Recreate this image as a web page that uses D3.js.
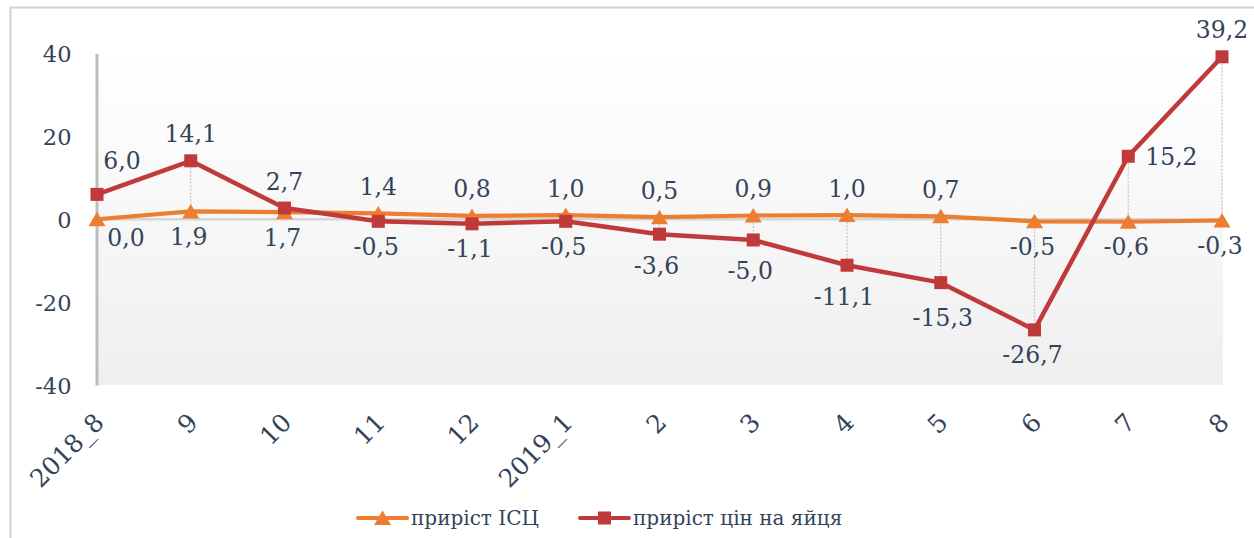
<!DOCTYPE html>
<html>
<head>
<meta charset="utf-8">
<script src="https://cdn.jsdelivr.net/npm/d3@7"></script>
<style>
  html, body { margin: 0; padding: 0; background: #ffffff; }
  svg { display: block; }
</style>
</head>
<body>
<svg id="chart" width="1254" height="538"></svg>
<script>
// ---- data ----
const categories = ["2018_8", "9", "10", "11", "12", "2019_1", "2", "3", "4", "5", "6", "7", "8"];
const iscValues  = [0.0, 1.9, 1.7, 1.4, 0.8, 1.0, 0.5, 0.9, 1.0, 0.7, -0.5, -0.6, -0.3];
const eggValues  = [6.0, 14.1, 2.7, -0.5, -1.1, -0.5, -3.6, -5.0, -11.1, -15.3, -26.7, 15.2, 39.2];
const yTicks     = [-40, -20, 0, 20, 40];
const seriesNames = ["приріст ІСЦ", "приріст цін на яйця"];
// label placement codes (layout only)
const iscLabelPos = ["br", "b", "b", "t", "t", "t", "t", "t", "t", "t", "b", "b", "b"];
const eggLabelPos = ["tr", "t", "t", "b", "b", "b", "b2", "b2", "b2", "b3", "b", "r", "t"];

const FONT = '"DejaVu Serif", serif';
const TEXT = "#34435a";
const orange = "#ED7D31";
const red = "#C0393B";

const svg = d3.select("#chart");
const plot = { left: 97, right: 1223, top: 53.5, bottom: 385 };

// outer chart border (only left/top visible)
svg.append("rect")
  .attr("x", 10.5).attr("y", 7.5).attr("width", 1260).attr("height", 560)
  .attr("fill", "none").attr("stroke", "#d2d2d2").attr("stroke-width", 2);

const defs = svg.append("defs");
const grad = defs.append("linearGradient").attr("id", "bg").attr("x1", 0).attr("y1", 0).attr("x2", 0).attr("y2", 1);
grad.append("stop").attr("offset", "0%").attr("stop-color", "#ffffff");
grad.append("stop").attr("offset", "100%").attr("stop-color", "#efefef");

const x = d3.scalePoint().domain(categories).range([97, 1222]).padding(0);
const y = d3.scaleLinear().domain([-40, 40]).range([plot.bottom, plot.top]);

// plot background
svg.append("rect")
  .attr("x", plot.left).attr("y", plot.top)
  .attr("width", plot.right - plot.left).attr("height", plot.bottom - plot.top)
  .attr("fill", "url(#bg)");

// zero line
svg.append("line")
  .attr("x1", plot.left).attr("x2", plot.right)
  .attr("y1", y(0)).attr("y2", y(0))
  .attr("stroke", "#d6d6d6").attr("stroke-width", 2.5);

// y axis
const yAxis = svg.append("g")
  .attr("transform", `translate(${plot.left - 0.5},0)`)
  .call(d3.axisLeft(y).tickValues(yTicks).tickSize(0).tickSizeOuter(0).tickPadding(25)
        .tickFormat(d => d < 0 ? "-" + Math.abs(d) : String(d)));
yAxis.select(".domain").attr("stroke", "#bdbdbd").attr("stroke-width", 3);
yAxis.selectAll("text")
  .style("font-family", FONT).style("font-size", "22.5px").style("fill", TEXT)
  .attr("dy", "0.36em");

// x axis (labels only)
const xAxis = svg.append("g")
  .attr("transform", `translate(0,${plot.bottom})`)
  .call(d3.axisBottom(x).tickSize(0).tickSizeOuter(0));
xAxis.select(".domain").remove();
xAxis.selectAll(".tick text")
  .style("font-family", FONT).style("font-size", "25px").style("fill", TEXT)
  .attr("text-anchor", "end")
  .attr("dy", null).attr("y", null)
  .attr("transform", "translate(8,39) rotate(-45)");

// high-low lines
const hl = svg.append("g");
categories.forEach((c, i) => {
  const a = iscValues[i], b = eggValues[i];
  hl.append("line")
    .attr("x1", x(c)).attr("x2", x(c))
    .attr("y1", y(Math.max(a, b))).attr("y2", y(Math.min(a, b)))
    .attr("stroke", "#c4c4c4").attr("stroke-width", 1.2).attr("stroke-dasharray", "2,1.5");
});

const line = d3.line().x((d, i) => x(categories[i])).y(d => y(d));

// ISC series
svg.append("path").datum(iscValues)
  .attr("d", line).attr("fill", "none").attr("stroke", orange).attr("stroke-width", 4.2)
  .attr("stroke-linejoin", "round");
const triPath = "M0,-7.5 L8.5,7 L-8.5,7 Z";
svg.append("g").selectAll("path").data(iscValues).join("path")
  .attr("d", triPath)
  .attr("transform", (d, i) => `translate(${x(categories[i])},${y(d)})`)
  .attr("fill", orange);

// Egg series
svg.append("path").datum(eggValues)
  .attr("d", line).attr("fill", "none").attr("stroke", red).attr("stroke-width", 4.5)
  .attr("stroke-linejoin", "round");
svg.append("g").selectAll("rect").data(eggValues).join("rect")
  .attr("x", (d, i) => x(categories[i]) - 6.5)
  .attr("y", d => y(d) - 6.5)
  .attr("width", 13).attr("height", 13)
  .attr("fill", red);

// data labels
const fmt = v => (v < 0 ? "-" : "") + Math.abs(v).toFixed(1).replace(".", ",");
const offsets = {
  t:  { dx: 0,  dy: -27, anchor: "middle" },
  b:  { dx: -2, dy: 25,  anchor: "middle" },
  b2: { dx: -3, dy: 31,  anchor: "middle" },
  b3: { dx: 2,  dy: 35,  anchor: "middle" },
  br: { dx: 29, dy: 18,  anchor: "middle" },
  tr: { dx: 25, dy: -34, anchor: "middle" },
  r:  { dx: 17, dy: 0,   anchor: "start" }
};
function addLabels(values, pos) {
  svg.append("g").selectAll("text").data(values).join("text")
    .attr("x", (d, i) => x(categories[i]) + offsets[pos[i]].dx)
    .attr("y", (d, i) => y(d) + offsets[pos[i]].dy)
    .attr("dy", "0.36em")
    .attr("text-anchor", (d, i) => offsets[pos[i]].anchor)
    .style("font-family", FONT).style("font-size", "23.5px").style("fill", TEXT)
    .text(d => fmt(d));
}
addLabels(iscValues, iscLabelPos);
addLabels(eggValues, eggLabelPos);

// legend
const legend = svg.append("g").attr("transform", "translate(0,518)");
const legItems = [
  { name: seriesNames[0], color: orange, x0: 358, marker: "tri" },
  { name: seriesNames[1], color: red, x0: 580, marker: "sq" }
];
legItems.forEach(it => {
  legend.append("line").attr("x1", it.x0).attr("x2", it.x0 + 49).attr("y1", 0).attr("y2", 0)
    .attr("stroke", it.color).attr("stroke-width", 4).attr("stroke-linecap", "round");
  if (it.marker === "tri") {
    legend.append("path").attr("d", triPath).attr("transform", `translate(${it.x0 + 24.5},0)`).attr("fill", it.color);
  } else {
    legend.append("rect").attr("x", it.x0 + 24.5 - 6.5).attr("y", -6.5).attr("width", 13).attr("height", 13).attr("fill", it.color);
  }
  legend.append("text").attr("x", it.x0 + 53).attr("y", 0).attr("dy", "0.36em")
    .style("font-family", FONT).style("font-size", "20px").style("fill", TEXT)
    .text(it.name);
});
</script>
</body>
</html>
